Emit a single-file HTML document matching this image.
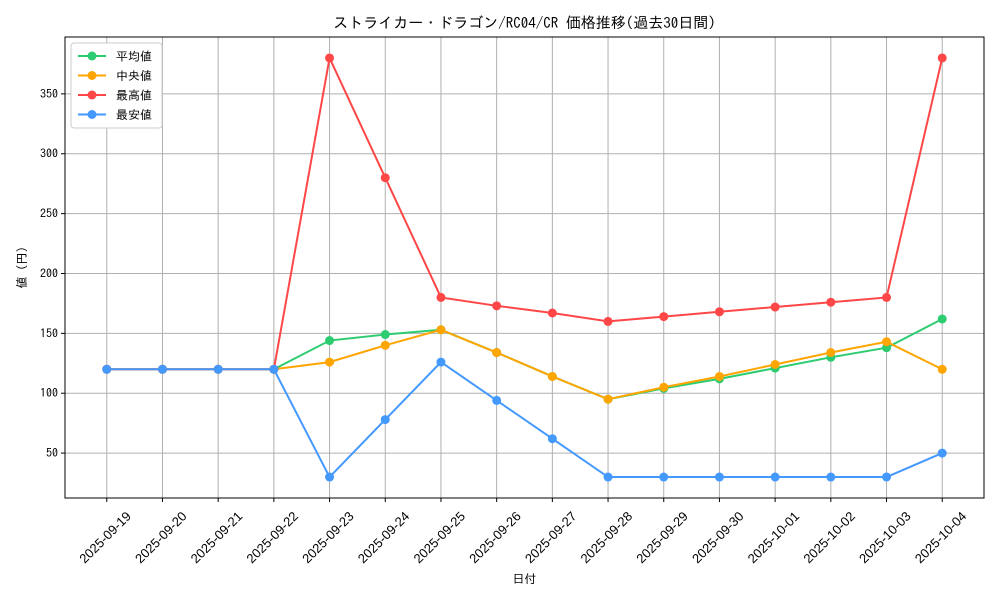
<!DOCTYPE html>
<html><head><meta charset="utf-8"><style>
body{margin:0;background:#fff;}
svg{font-family:"IPAGothic","Noto Sans CJK JP",monospace;}
</style></head><body>
<svg id="chart" width="1000" height="600"></svg>
<script>
const dates=["2025-09-19","2025-09-20","2025-09-21","2025-09-22","2025-09-23","2025-09-24","2025-09-25","2025-09-26","2025-09-27","2025-09-28","2025-09-29","2025-09-30","2025-10-01","2025-10-02","2025-10-03","2025-10-04"];
const avgVals=[120,120,120,120,144,149,153,134,114,95,104,112,121,130,138,162];
const medVals=[120,120,120,120,126,140,153,134,114,95,105,114,124,134,143,120];
const maxVals=[120,120,120,120,380,280,180,173,167,160,164,168,172,176,180,380];
const minVals=[120,120,120,120,30,78,126,94,62,30,30,30,30,30,30,50];
const yTicks=[50,100,150,200,250,300,350];
const seriesNames=["平均値","中央値","最高値","最安値"];
const NS="http://www.w3.org/2000/svg";
const svg=document.getElementById('chart');
const L=65,R=984,T=37,B=498;
const xS=i=>L+(i+0.75)/16.5*(R-L);
const yMin=12.5,yMax=397.5;
const yS=v=>B-(v-yMin)/(yMax-yMin)*(B-T);
function el(tag,attrs,parent){const e=document.createElementNS(NS,tag);for(const k in attrs)e.setAttribute(k,attrs[k]);(parent||svg).appendChild(e);return e;}
const grid=el('g',{});


dates.forEach((d,i)=>{
  const x=xS(i);
  el('line',{x1:x,x2:x,y1:T,y2:B,stroke:'#b0b0b0','stroke-width':1},grid);
  el('line',{x1:x,x2:x,y1:B,y2:B+4,stroke:'#000'});
  const cx=x-2, cy=537;
  const t=el('text',{x:cx,y:cy+5,'font-size':13,'font-family':'"Liberation Sans",sans-serif','text-anchor':'middle',transform:`rotate(-45 ${cx} ${cy})`});
  t.textContent=d;
  
  
});
yTicks.forEach(v=>{
  const y=yS(v);
  el('line',{x1:L,x2:R,y1:y,y2:y,stroke:'#b0b0b0','stroke-width':1},grid);
  el('line',{x1:L-4,x2:L,y1:y,y2:y,stroke:'#000'});
  const t=el('text',{x:L-7,y:y+4,'font-size':12,'text-anchor':'end'});
  t.textContent=v;
  
  
});
const series=[[avgVals,'#2ecc71','series-average'],[medVals,'#ffa500','series-median'],[maxVals,'#ff4747','series-max'],[minVals,'#4499ff','series-min']];
series.forEach(([vals,c,name])=>{
  const g=el('g',{});
  
  
  el('polyline',{points:vals.map((v,i)=>xS(i)+','+yS(v)).join(' '),fill:'none',stroke:c,'stroke-width':2},g);
  vals.forEach((v,i)=>{
    const p=el('circle',{cx:xS(i),cy:yS(v),r:4.5,fill:c},g);
    
    
  });
});
const frame=el('rect',{x:L,y:T,width:R-L,height:B-T,fill:'none',stroke:'#000','stroke-width':1});


const title=el('text',{x:(L+R)/2,y:28,'font-size':15,'text-anchor':'middle'});
title.textContent='ストライカー・ドラゴン/RC04/CR 価格推移(過去30日間)';


const xt=el('text',{x:(L+R)/2,y:583,'font-size':12,'text-anchor':'middle'});
xt.textContent='日付';


const yt=el('text',{x:26,y:(T+B)/2,'font-size':12,'text-anchor':'middle',transform:`rotate(-90 26 ${(T+B)/2})`});
yt.textContent='値 (円)';


const lg=el('g',{});


el('rect',{x:71,y:43,width:91,height:85,fill:'#fff',stroke:'#ccc',rx:3},lg);
series.forEach(([v,c],i)=>{
  const y=56+i*19.5;
  const e=el('g',{},lg);
  
  
  el('line',{x1:78,x2:106,y1:y,y2:y,stroke:c,'stroke-width':2},e);
  el('circle',{cx:92,cy:y,r:4.5,fill:c},e);
  const t=el('text',{x:116,y:y+4.5,'font-size':12},e);
  t.textContent=seriesNames[i];
});
</script>
</body></html>
